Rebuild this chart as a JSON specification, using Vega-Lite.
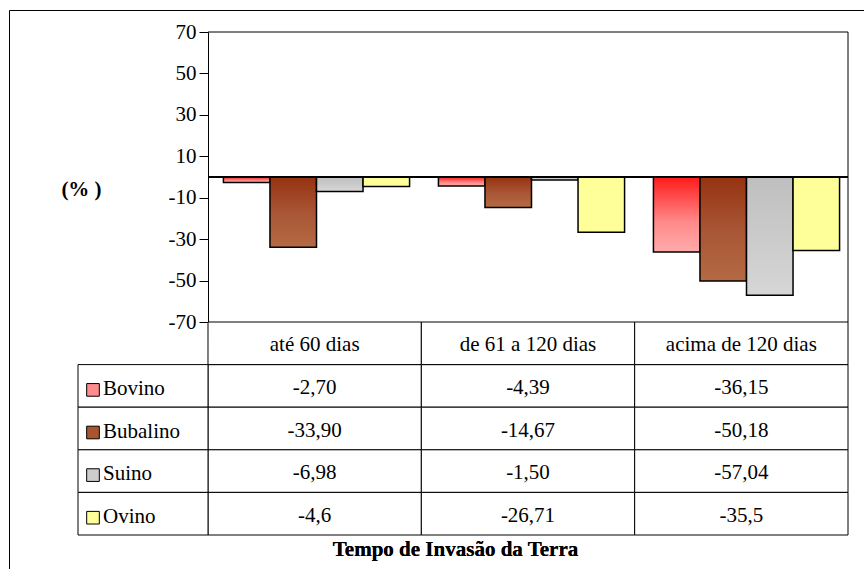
{
  "$schema": "https://vega.github.io/schema/vega-lite/v6.json",
  "width": 855,
  "height": 559,
  "padding": {"left": 9, "top": 10, "right": 0, "bottom": 0},
  "autosize": {"type": "none"},
  "background": "white",
  "config": {
    "view": {"stroke": "black", "strokeWidth": 1},
    "font": "Liberation Serif",
    "text": {"font": "Liberation Serif", "fontSize": 21, "color": "black"}
  },
  "datasets": {
    "rows": [
      {"period": "até 60 dias", "species": "Bovino", "value": -2.70, "label": "-2,70"},
      {"period": "até 60 dias", "species": "Bubalino", "value": -33.90, "label": "-33,90"},
      {"period": "até 60 dias", "species": "Suino", "value": -6.98, "label": "-6,98"},
      {"period": "até 60 dias", "species": "Ovino", "value": -4.6, "label": "-4,6"},
      {"period": "de 61 a 120 dias", "species": "Bovino", "value": -4.39, "label": "-4,39"},
      {"period": "de 61 a 120 dias", "species": "Bubalino", "value": -14.67, "label": "-14,67"},
      {"period": "de 61 a 120 dias", "species": "Suino", "value": -1.50, "label": "-1,50"},
      {"period": "de 61 a 120 dias", "species": "Ovino", "value": -26.71, "label": "-26,71"},
      {"period": "acima de 120 dias", "species": "Bovino", "value": -36.15, "label": "-36,15"},
      {"period": "acima de 120 dias", "species": "Bubalino", "value": -50.18, "label": "-50,18"},
      {"period": "acima de 120 dias", "species": "Suino", "value": -57.04, "label": "-57,04"},
      {"period": "acima de 120 dias", "species": "Ovino", "value": -35.5, "label": "-35,5"}
    ],
    "periods": [
      {"period": "até 60 dias"},
      {"period": "de 61 a 120 dias"},
      {"period": "acima de 120 dias"}
    ],
    "species": [
      {"species": "Bovino"},
      {"species": "Bubalino"},
      {"species": "Suino"},
      {"species": "Ovino"}
    ],
    "one": [{}]
  },
  "resolve": {"scale": {"x": "independent", "y": "independent", "color": "independent"}, "axis": {"x": "independent", "y": "independent"}},
  "layer": [
    {
      "resolve": {"scale": {"x": "independent"}, "axis": {"x": "independent"}},
      "layer": [
        {
          "data": {"name": "rows"},
          "layer": [
            {
              "transform": [{"filter": "datum.species === 'Bovino'"}],
              "mark": {"type": "bar", "stroke": "black", "strokeWidth": 1.5,
                "fill": {"gradient": "linear", "x1": 0, "y1": 0, "x2": 0, "y2": 1,
                  "stops": [{"offset": 0, "color": "#FF1A1A"}, {"offset": 0.6, "color": "#FF8A8A"}, {"offset": 1, "color": "#FFABAB"}]}},
              "encoding": {
                "x": {"field": "period", "type": "nominal", "sort": ["até 60 dias", "de 61 a 120 dias", "acima de 120 dias"],
                  "scale": {"domain": ["até 60 dias", "de 61 a 120 dias", "acima de 120 dias"], "range": [200, 845], "paddingInner": 0, "paddingOuter": 0}, "axis": null},
                "xOffset": {"field": "species", "type": "nominal", "scale": {"domain": ["Bovino", "Bubalino", "Suino", "Ovino"], "paddingInner": 0, "paddingOuter": 0.31}},
                "y": {"field": "value", "type": "quantitative", "scale": {"domain": [-70, 70], "range": [312, 22], "nice": false, "zero": false},
                  "axis": {"offset": -199, "values": [-70, -50, -30, -10, 10, 30, 50, 70], "labelExpr": "'' + datum.value", "grid": false, "domainColor": "black", "domainWidth": 1,
                    "tickColor": "black", "tickSize": 9, "labelFont": "Liberation Serif", "labelFontSize": 21, "labelColor": "black", "labelPadding": 3,
                    "title": "(% )", "titleAngle": 0, "titleX": -127, "titleY": 179, "titleAlign": "center", "titleBaseline": "middle",
                    "titleFont": "Liberation Serif", "titleFontSize": 21, "titleFontWeight": "bold", "titleColor": "black"}}
              }
            },
            {
              "transform": [{"filter": "datum.species === 'Bubalino'"}],
              "mark": {"type": "bar", "stroke": "black", "strokeWidth": 1.5,
                "fill": {"gradient": "linear", "x1": 0, "y1": 0, "x2": 0, "y2": 1,
                  "stops": [{"offset": 0, "color": "#963210"}, {"offset": 0.5, "color": "#A85535"}, {"offset": 1, "color": "#B46A43"}]}},
              "encoding": {
                "x": {"field": "period", "type": "nominal", "sort": ["até 60 dias", "de 61 a 120 dias", "acima de 120 dias"],
                  "scale": {"domain": ["até 60 dias", "de 61 a 120 dias", "acima de 120 dias"], "range": [200, 845], "paddingInner": 0, "paddingOuter": 0}, "axis": null},
                "xOffset": {"field": "species", "type": "nominal", "scale": {"domain": ["Bovino", "Bubalino", "Suino", "Ovino"], "paddingInner": 0, "paddingOuter": 0.31}},
                "y": {"field": "value", "type": "quantitative", "scale": {"domain": [-70, 70], "range": [312, 22], "nice": false, "zero": false},
                  "axis": {"offset": -199, "values": [-70, -50, -30, -10, 10, 30, 50, 70], "labelExpr": "'' + datum.value", "grid": false, "domainColor": "black", "domainWidth": 1,
                    "tickColor": "black", "tickSize": 9, "labelFont": "Liberation Serif", "labelFontSize": 21, "labelColor": "black", "labelPadding": 3,
                    "title": "(% )", "titleAngle": 0, "titleX": -127, "titleY": 179, "titleAlign": "center", "titleBaseline": "middle",
                    "titleFont": "Liberation Serif", "titleFontSize": 21, "titleFontWeight": "bold", "titleColor": "black"}}
              }
            },
            {
              "transform": [{"filter": "datum.species === 'Suino'"}],
              "mark": {"type": "bar", "stroke": "black", "strokeWidth": 1.5,
                "fill": {"gradient": "linear", "x1": 0, "y1": 0, "x2": 0, "y2": 1,
                  "stops": [{"offset": 0, "color": "#BFBFBF"}, {"offset": 1, "color": "#D6D6D6"}]}},
              "encoding": {
                "x": {"field": "period", "type": "nominal", "sort": ["até 60 dias", "de 61 a 120 dias", "acima de 120 dias"],
                  "scale": {"domain": ["até 60 dias", "de 61 a 120 dias", "acima de 120 dias"], "range": [200, 845], "paddingInner": 0, "paddingOuter": 0}, "axis": null},
                "xOffset": {"field": "species", "type": "nominal", "scale": {"domain": ["Bovino", "Bubalino", "Suino", "Ovino"], "paddingInner": 0, "paddingOuter": 0.31}},
                "y": {"field": "value", "type": "quantitative", "scale": {"domain": [-70, 70], "range": [312, 22], "nice": false, "zero": false},
                  "axis": {"offset": -199, "values": [-70, -50, -30, -10, 10, 30, 50, 70], "labelExpr": "'' + datum.value", "grid": false, "domainColor": "black", "domainWidth": 1,
                    "tickColor": "black", "tickSize": 9, "labelFont": "Liberation Serif", "labelFontSize": 21, "labelColor": "black", "labelPadding": 3,
                    "title": "(% )", "titleAngle": 0, "titleX": -127, "titleY": 179, "titleAlign": "center", "titleBaseline": "middle",
                    "titleFont": "Liberation Serif", "titleFontSize": 21, "titleFontWeight": "bold", "titleColor": "black"}}
              }
            },
            {
              "transform": [{"filter": "datum.species === 'Ovino'"}],
              "mark": {"type": "bar", "stroke": "black", "strokeWidth": 1.5, "fill": "#FFFF99"},
              "encoding": {
                "x": {"field": "period", "type": "nominal", "sort": ["até 60 dias", "de 61 a 120 dias", "acima de 120 dias"],
                  "scale": {"domain": ["até 60 dias", "de 61 a 120 dias", "acima de 120 dias"], "range": [200, 845], "paddingInner": 0, "paddingOuter": 0}, "axis": null},
                "xOffset": {"field": "species", "type": "nominal", "scale": {"domain": ["Bovino", "Bubalino", "Suino", "Ovino"], "paddingInner": 0, "paddingOuter": 0.31}},
                "y": {"field": "value", "type": "quantitative", "scale": {"domain": [-70, 70], "range": [312, 22], "nice": false, "zero": false},
                  "axis": {"offset": -199, "values": [-70, -50, -30, -10, 10, 30, 50, 70], "labelExpr": "'' + datum.value", "grid": false, "domainColor": "black", "domainWidth": 1,
                    "tickColor": "black", "tickSize": 9, "labelFont": "Liberation Serif", "labelFontSize": 21, "labelColor": "black", "labelPadding": 3,
                    "title": "(% )", "titleAngle": 0, "titleX": -127, "titleY": 179, "titleAlign": "center", "titleBaseline": "middle",
                    "titleFont": "Liberation Serif", "titleFontSize": 21, "titleFontWeight": "bold", "titleColor": "black"}}
              }
            }
          ]
        },
        {
          "data": {"name": "one"},
          "layer": [
            {
              "mark": {"type": "rule", "color": "black", "strokeWidth": 1},
              "encoding": {
                "x": {"datum": 0, "type": "quantitative", "scale": {"domain": [0, 1], "range": [199, 839], "nice": false, "zero": false}, "axis": null},
                "x2": {"datum": 1},
                "y": {"datum": 70, "type": "quantitative"}
              }
            },
            {
              "mark": {"type": "rule", "color": "black", "strokeWidth": 1},
              "encoding": {
                "x": {"datum": 1, "type": "quantitative", "scale": {"domain": [0, 1], "range": [199, 839], "nice": false, "zero": false}, "axis": null},
                "y": {"datum": 70, "type": "quantitative"},
                "y2": {"datum": -70}
              }
            },
            {
              "mark": {"type": "rule", "color": "black", "strokeWidth": 2},
              "encoding": {
                "x": {"datum": 0, "type": "quantitative", "scale": {"domain": [0, 1], "range": [199, 839], "nice": false, "zero": false}, "axis": null},
                "x2": {"datum": 1},
                "y": {"datum": 0, "type": "quantitative"}
              }
            }
          ]
        }
      ]
    },
    {
      "resolve": {"scale": {"x": "independent"}, "axis": {"x": "independent"}},
      "layer": [
        {
          "data": {"name": "rows"},
          "layer": [
            {
              "mark": {"type": "rect", "fill": "white", "stroke": "black", "strokeWidth": 1},
              "encoding": {
                "x": {"field": "period", "type": "nominal",
                  "scale": {"domain": ["até 60 dias", "de 61 a 120 dias", "acima de 120 dias"], "range": [199, 839], "paddingInner": 0, "paddingOuter": 0},
                  "axis": {"orient": "bottom", "offset": -34, "domain": false, "ticks": false, "labels": false,
                    "title": "Tempo de Invasão da Terra", "titleX": 446, "titleY": 14, "titleAlign": "center", "titleBaseline": "middle",
                    "titleFont": "Liberation Serif", "titleFontSize": 21, "titleFontWeight": "bold", "titleColor": "black"}},
                "y": {"field": "species", "type": "nominal",
                  "scale": {"domain": ["header", "Bovino", "Bubalino", "Suino", "Ovino"], "range": [312, 525], "paddingInner": 0, "paddingOuter": 0},
                  "axis": null}
              }
            },
            {
              "mark": {"type": "text", "align": "center", "baseline": "middle", "dy": 2, "fontSize": 21},
              "encoding": {
                "x": {"field": "period", "type": "nominal",
                  "scale": {"domain": ["até 60 dias", "de 61 a 120 dias", "acima de 120 dias"], "range": [199, 839], "paddingInner": 0, "paddingOuter": 0},
                  "axis": {"orient": "bottom", "offset": -34, "domain": false, "ticks": false, "labels": false,
                    "title": "Tempo de Invasão da Terra", "titleX": 446, "titleY": 14, "titleAlign": "center", "titleBaseline": "middle",
                    "titleFont": "Liberation Serif", "titleFontSize": 21, "titleFontWeight": "bold", "titleColor": "black"}},
                "y": {"field": "species", "type": "nominal",
                  "scale": {"domain": ["header", "Bovino", "Bubalino", "Suino", "Ovino"], "range": [312, 525], "paddingInner": 0, "paddingOuter": 0},
                  "axis": null},
                "text": {"field": "label", "type": "nominal"}
              }
            }
          ]
        },
        {
          "data": {"name": "periods"},
          "layer": [
            {
              "mark": {"type": "rect", "fill": "white", "stroke": "black", "strokeWidth": 1},
              "encoding": {
                "x": {"field": "period", "type": "nominal",
                  "scale": {"domain": ["até 60 dias", "de 61 a 120 dias", "acima de 120 dias"], "range": [199, 839], "paddingInner": 0, "paddingOuter": 0},
                  "axis": {"orient": "bottom", "offset": -34, "domain": false, "ticks": false, "labels": false,
                    "title": "Tempo de Invasão da Terra", "titleX": 446, "titleY": 14, "titleAlign": "center", "titleBaseline": "middle",
                    "titleFont": "Liberation Serif", "titleFontSize": 21, "titleFontWeight": "bold", "titleColor": "black"}},
                "y": {"datum": "header", "type": "nominal",
                  "scale": {"domain": ["header", "Bovino", "Bubalino", "Suino", "Ovino"], "range": [312, 525], "paddingInner": 0, "paddingOuter": 0},
                  "axis": null}
              }
            },
            {
              "mark": {"type": "text", "align": "center", "baseline": "middle", "dy": 2, "fontSize": 21},
              "encoding": {
                "x": {"field": "period", "type": "nominal",
                  "scale": {"domain": ["até 60 dias", "de 61 a 120 dias", "acima de 120 dias"], "range": [199, 839], "paddingInner": 0, "paddingOuter": 0},
                  "axis": {"orient": "bottom", "offset": -34, "domain": false, "ticks": false, "labels": false,
                    "title": "Tempo de Invasão da Terra", "titleX": 446, "titleY": 14, "titleAlign": "center", "titleBaseline": "middle",
                    "titleFont": "Liberation Serif", "titleFontSize": 21, "titleFontWeight": "bold", "titleColor": "black"}},
                "y": {"datum": "header", "type": "nominal",
                  "scale": {"domain": ["header", "Bovino", "Bubalino", "Suino", "Ovino"], "range": [312, 525], "paddingInner": 0, "paddingOuter": 0},
                  "axis": null},
                "text": {"field": "period", "type": "nominal"}
              }
            }
          ]
        },
        {
          "data": {"name": "species"},
          "layer": [
            {
              "mark": {"type": "rect", "fill": "white", "stroke": "black", "strokeWidth": 1},
              "encoding": {
                "x": {"datum": "legend", "type": "nominal",
                  "scale": {"domain": ["legend"], "range": [69, 199], "paddingInner": 0, "paddingOuter": 0}, "axis": null},
                "y": {"field": "species", "type": "nominal",
                  "scale": {"domain": ["header", "Bovino", "Bubalino", "Suino", "Ovino"], "range": [312, 525], "paddingInner": 0, "paddingOuter": 0},
                  "axis": null}
              }
            },
            {
              "mark": {"type": "square", "size": 160, "filled": true, "stroke": "black", "strokeWidth": 1, "opacity": 1, "xOffset": -50, "yOffset": 4},
              "encoding": {
                "x": {"datum": "legend", "type": "nominal",
                  "scale": {"domain": ["legend"], "range": [69, 199], "paddingInner": 0, "paddingOuter": 0}, "axis": null},
                "y": {"field": "species", "type": "nominal",
                  "scale": {"domain": ["header", "Bovino", "Bubalino", "Suino", "Ovino"], "range": [312, 525], "paddingInner": 0, "paddingOuter": 0},
                  "axis": null},
                "color": {"field": "species", "type": "nominal",
                  "scale": {"domain": ["Bovino", "Bubalino", "Suino", "Ovino"], "range": ["#FF8C8C", "#A8552F", "#CCCCCC", "#FFFF99"]},
                  "legend": null}
              }
            },
            {
              "mark": {"type": "text", "align": "left", "baseline": "middle", "dx": -40, "dy": 3, "fontSize": 21},
              "encoding": {
                "x": {"datum": "legend", "type": "nominal",
                  "scale": {"domain": ["legend"], "range": [69, 199], "paddingInner": 0, "paddingOuter": 0}, "axis": null},
                "y": {"field": "species", "type": "nominal",
                  "scale": {"domain": ["header", "Bovino", "Bubalino", "Suino", "Ovino"], "range": [312, 525], "paddingInner": 0, "paddingOuter": 0},
                  "axis": null},
                "text": {"field": "species", "type": "nominal"}
              }
            }
          ]
        }
      ]
    }
  ]
}
